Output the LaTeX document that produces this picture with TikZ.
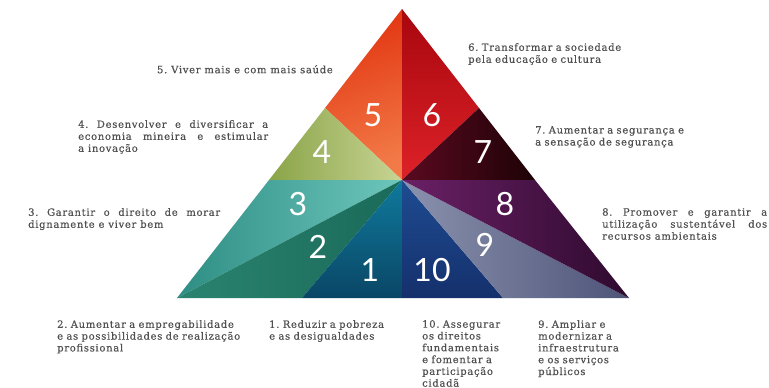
\documentclass[tikz,border=0pt]{standalone}
\usepackage{fontspec}
\setmainfont{DejaVu Serif}[LetterSpace=7, FakeBold=0.35]
\newfontfamily\digitfont{Lato}
\definecolor{labgray}{HTML}{505050}
\definecolor{c5a}{HTML}{E23410}\definecolor{c5b}{HTML}{F27A48}
\definecolor{c6a}{HTML}{A8060E}\definecolor{c6b}{HTML}{DD2228}
\definecolor{c4a}{HTML}{8AA448}\definecolor{c4b}{HTML}{C8D494}
\definecolor{c7a}{HTML}{5A0A20}\definecolor{c7b}{HTML}{1E0206}
\definecolor{c3a}{HTML}{2E8E84}\definecolor{c3b}{HTML}{6EC6BC}
\definecolor{c2a}{HTML}{2A8470}\definecolor{c2b}{HTML}{1A6A58}
\definecolor{c1a}{HTML}{0F7A9C}\definecolor{c1b}{HTML}{0A4666}
\definecolor{c10a}{HTML}{1E4C92}\definecolor{c10b}{HTML}{15306C}
\definecolor{c9a}{HTML}{8A92AE}\definecolor{c9b}{HTML}{4E5478}
\definecolor{c8a}{HTML}{6A2066}\definecolor{c8b}{HTML}{2E0A2E}
\begin{document}
\frenchspacing
\begin{tikzpicture}[x=1pt,y=-1pt,
  lab/.style={inner sep=0pt, anchor=north west, text=labgray, font=\fontsize{10}{12}\selectfont, align=left},
  blab/.style={lab, font=\fontsize{10}{11.8}\selectfont},
  jlab/.style={lab, align=justify},
  num/.style={text=white, font=\digitfont\fontsize{32}{32}\selectfont, inner sep=0pt}]
\useasboundingbox (0,0) rectangle (769,388);
\fill[white] (0,0) rectangle (769,388);
% key points
\coordinate (A) at (402,9);
\coordinate (BL) at (177,298);
\coordinate (BR) at (629,298);
\coordinate (C) at (402,180);
\coordinate (L) at (269,180);
\coordinate (R) at (535,180);
\coordinate (L2) at (325,108);
\coordinate (R2) at (479,108);
\coordinate (B1) at (302,298);
\coordinate (B0) at (402,298);
\coordinate (B9) at (503,298);
% regions
\shade[top color=c5a, bottom color=c5b, shading angle=20] (A) -- (L2) -- (C) -- cycle;
\shade[top color=c6a, bottom color=c6b] (A) -- (C) -- (R2) -- cycle;
\shade[left color=c4a, right color=c4b] (L2) -- (L) -- (C) -- cycle;
\shade[left color=c7a, right color=c7b] (R2) -- (C) -- (R) -- cycle;
\shade[left color=c3a, right color=c3b] (L) -- (BL) -- (C) -- cycle;
\shade[left color=c2a, right color=c2b] (BL) -- (B1) -- (C) -- cycle;
\shade[top color=c1a, bottom color=c1b] (C) -- (B0) -- (B1) -- cycle;
\shade[top color=c10a, bottom color=c10b] (C) -- (B9) -- (B0) -- cycle;
\shade[left color=c9a, right color=c9b] (C) -- (BR) -- (B9) -- cycle;
\shade[left color=c8a, right color=c8b] (C) -- (R) -- (BR) -- cycle;
% numbers
\node[num] (n5) at (373,115) {5};
\node[num] (n6) at (432,115) {6};
\node[num] (n4) at (322,152) {4};
\node[num] (n7) at (483,152) {7};
\node[num] (n3) at (298,204) {3};
\node[num] (n8) at (505,204) {8};
\node[num] (n2) at (318,247) {2};
\node[num] (n9) at (485,245) {9};
\node[num] (n1) at (370,270) {1};
\node[num] (n10) at (432,270) {10};
% labels
\node[lab, anchor=north east, align=right] (t5) at (333,65) {5. Viver mais e com mais saúde};
\node[lab, text width=180pt] (t6) at (468,43) {6. Transformar a sociedade\\pela educação e cultura};
\node[jlab, text width=190pt] (t4) at (78,120) {4. Desenvolver e diversificar a\linebreak economia mineira e estimular\linebreak a inovação};
\node[jlab, text width=192pt] (t3) at (28,208) {3. Garantir o direito de morar\linebreak dignamente e viver bem};
\node[lab, text width=180pt] (t7) at (535,126) {7. Aumentar a segurança e\\a sensação de segurança};
\node[jlab, text width=165pt] (t8) at (602,208) {8. Promover e garantir a\linebreak utilização sustentável dos\linebreak recursos ambientais};
\node[blab, text width=210pt] (t2) at (57,320) {2. Aumentar a empregabilidade\\e as possibilidades de realização\\profissional};
\node[blab, text width=145pt] (t1) at (269,320) {1. Reduzir a pobreza\\e as desigualdades};
\node[blab, text width=110pt] (t10) at (422,320) {10. Assegurar\\os direitos\\fundamentais\\e fomentar a\\participação\\cidadã};
\node[blab, text width=110pt] (t9) at (538,320) {9. Ampliar e\\modernizar a\\infraestrutura\\e os serviços\\públicos};
\end{tikzpicture}
\end{document}
